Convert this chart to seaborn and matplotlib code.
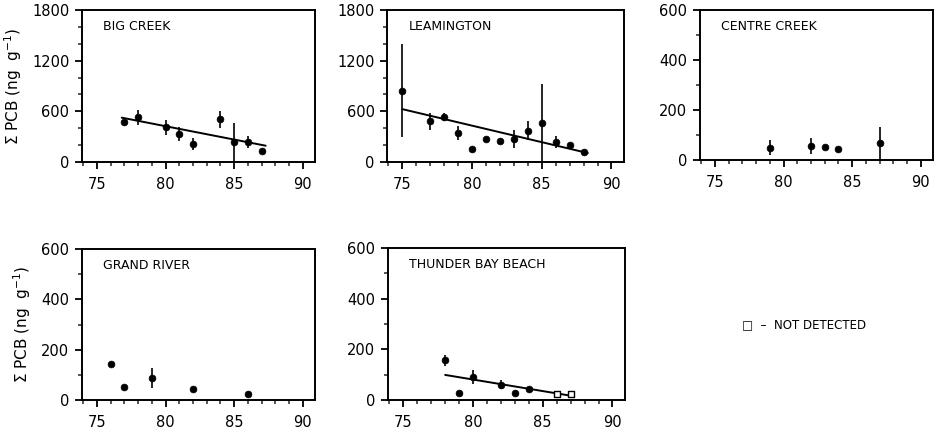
import numpy as np
import pandas as pd
import seaborn as sns
import matplotlib
matplotlib.use("Agg")
import matplotlib.pyplot as plt
from matplotlib.ticker import MultipleLocator

sns.set_theme(style="ticks")
plt.rcParams['font.family'] = ['DejaVu Sans']
plt.rcParams['text.color'] = 'black'
plt.rcParams['axes.labelcolor'] = 'black'

# ---- data ----
big_x = [77, 78, 80, 81, 82, 84, 85, 86, 87]
big_y = [470, 531, 413, 331, 217, 508, 236, 236, 126]
big_e = [30, 90, 90, 80, 70, 100, 230, 70, 0]
big_fit_x = [76.8, 87.3]
big_fit_y = [525, 193]

lea_x = [75, 77, 78, 79, 80, 81, 82, 83, 84, 85, 86, 87, 88]
lea_y = [846, 480, 531, 342, 157, 272, 244, 272, 370, 461, 232, 197, 118]
lea_e = [550, 100, 50, 80, 0, 0, 0, 110, 110, 460, 70, 0, 0]
lea_fit_x = [75.0, 88.3]
lea_fit_y = [626, 106]

cen_x = [79, 82, 83, 84, 87]
cen_y = [49, 56, 51, 43, 69]
cen_e = [30, 32, 0, 0, 65]

gra_x = [76, 77, 79, 82, 86]
gra_y = [143, 53, 89, 45, 24]
gra_e = [0, 0, 40, 0, 0]

thu_x = [78, 79, 80, 82, 83, 84, 86, 87]
thu_y = [156, 29, 92, 61, 29, 44, 22, 22]
thu_e = [23, 0, 28, 18, 0, 0, 0, 0]
thu_nd = [False, False, False, False, False, False, True, True]
thu_fit_x = [78.0, 87.0]
thu_fit_y = [99, 17]

titles = ["BIG CREEK", "LEAMINGTON", "CENTRE CREEK", "GRAND RIVER", "THUNDER BAY BEACH"]
ylabel = r"$\Sigma$ PCB (ng  g$^{-1}$)"
legend_text = "□  –  NOT DETECTED"

W, H = 939, 433
fig = plt.figure(figsize=(W / 100, H / 100), dpi=100)

def rect(l, t, r, b):
    return [l / W, 1 - b / H, (r - l) / W, (b - t) / H]

panels = [
    dict(pos=rect(82, 10, 315, 162), x=big_x, y=big_y, e=big_e, fit=(big_fit_x, big_fit_y), ymax=1800, major=600, minor=200, title=titles[0], ylab=True),
    dict(pos=rect(387, 10, 624, 162), x=lea_x, y=lea_y, e=lea_e, fit=(lea_fit_x, lea_fit_y), ymax=1800, major=600, minor=200, title=titles[1], ylab=False),
    dict(pos=rect(700, 10, 933, 160), x=cen_x, y=cen_y, e=cen_e, fit=None, ymax=600, major=200, minor=100, title=titles[2], ylab=False),
    dict(pos=rect(82, 249, 315, 400), x=gra_x, y=gra_y, e=gra_e, fit=None, ymax=600, major=200, minor=100, title=titles[3], ylab=True),
    dict(pos=rect(388, 248, 625, 400), x=thu_x, y=thu_y, e=thu_e, fit=(thu_fit_x, thu_fit_y), ymax=600, major=200, minor=100, title=titles[4], ylab=False, nd=thu_nd),
]

for p in panels:
    ax = fig.add_axes(p["pos"])
    nd = p.get("nd", [False] * len(p["x"]))
    df = pd.DataFrame({"year": p["x"], "pcb": p["y"], "err": p["e"], "nd": nd})
    det = df[~df["nd"]]
    notdet = df[df["nd"]]
    eb = df[df["err"] > 0]
    ax.errorbar(eb["year"], eb["pcb"], yerr=eb["err"], fmt="none", ecolor="black", elinewidth=1.2, capsize=0, zorder=2)
    sns.scatterplot(data=det, x="year", y="pcb", ax=ax, color="black", s=24, edgecolor="black", linewidth=0.5, zorder=3, legend=False)
    if len(notdet):
        sns.scatterplot(data=notdet, x="year", y="pcb", ax=ax, marker="s", s=20, facecolor="white", edgecolor="black", linewidth=1.0, zorder=4, legend=False)
    if p["fit"] is not None:
        sns.lineplot(x=p["fit"][0], y=p["fit"][1], ax=ax, color="black", linewidth=1.4, zorder=2)
    ax.set_xlim(73.9, 90.9)
    ax.set_ylim(0, p["ymax"])
    ax.xaxis.set_major_locator(MultipleLocator(5))
    ax.xaxis.set_minor_locator(MultipleLocator(1))
    ax.yaxis.set_major_locator(MultipleLocator(p["major"]))
    ax.yaxis.set_minor_locator(MultipleLocator(p["minor"]))
    ax.tick_params(which="major", direction="out", length=5, width=1.3, labelsize=10.5, colors="black")
    ax.tick_params(axis="x", which="major", pad=6)
    ax.tick_params(axis="y", which="major", pad=4)
    ax.tick_params(which="minor", direction="out", length=3, width=1.1)
    ax.tick_params(top=False, right=False, which="both")
    for s in ax.spines.values():
        s.set_visible(True)
        s.set_linewidth(1.4)
        s.set_color("black")
    ax.set_xlabel("")
    if p["ylab"]:
        ax.set_ylabel(ylabel, fontsize=11, labelpad=6)
    else:
        ax.set_ylabel("")
    ax.text(0.09, 0.89, p["title"], transform=ax.transAxes, fontsize=9, ha="left", va="center")

fig.text(742 / W, 1 - 325 / H, legend_text, fontsize=8.5, ha="left", va="center",
         family=["DejaVu Sans"])

fig.savefig("out.png", dpi=100, facecolor="white")
